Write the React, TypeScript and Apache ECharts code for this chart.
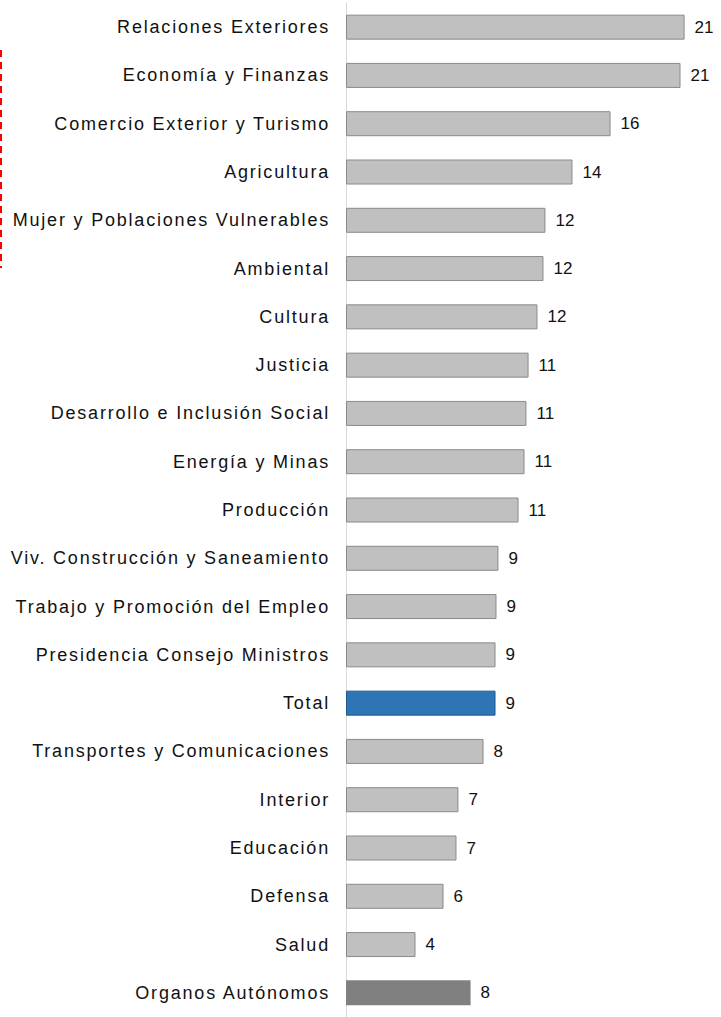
import React, { useEffect, useRef } from "react";
import * as echarts from "echarts";

const categories: string[] = [
  "Relaciones Exteriores",
  "Economía y Finanzas",
  "Comercio Exterior y Turismo",
  "Agricultura",
  "Mujer y Poblaciones Vulnerables",
  "Ambiental",
  "Cultura",
  "Justicia",
  "Desarrollo e Inclusión Social",
  "Energía y Minas",
  "Producción",
  "Viv. Construcción y Saneamiento",
  "Trabajo y Promoción del Empleo",
  "Presidencia Consejo Ministros",
  "Total",
  "Transportes y Comunicaciones",
  "Interior",
  "Educación",
  "Defensa",
  "Salud",
  "Organos Autónomos",
];

const values: number[] = [
  20.9, 20.65, 16.33, 13.98, 12.31, 12.19, 11.82, 11.27, 11.14, 11.02, 10.65,
  9.41, 9.29, 9.23, 9.23, 8.49, 6.94, 6.82, 6.02, 4.29, 7.69,
];

const totalCategory = "Total";
const autonomousCategory = "Organos Autónomos";

const FONT = "'Liberation Sans', Arial, Helvetica, sans-serif";

export default function App() {
  const ref = useRef<HTMLDivElement>(null);

  useEffect(() => {
    if (!ref.current) return;
    const chart = echarts.init(ref.current, undefined, { renderer: "svg" });
    const unit = 16.2;
    const xMax = 22;

    const data = values.map((v, i) => {
      const name = categories[i];
      let itemStyle: any = { color: "#c0c0c0", borderColor: "#8a8a8a", borderWidth: 1 };
      if (name === totalCategory) {
        itemStyle = { color: "#2e75b6", borderColor: "#1f5a8f", borderWidth: 1 };
      } else if (name === autonomousCategory) {
        itemStyle = { color: "#808080", borderColor: "#808080", borderWidth: 0 };
      }
      return { value: v, itemStyle };
    });

    chart.setOption({
      animation: false,
      grid: {
        left: 346,
        top: 3,
        width: xMax * unit,
        height: 21 * 48.51,
        containLabel: false,
      },
      xAxis: {
        type: "value",
        min: 0,
        max: xMax,
        show: false,
        splitLine: { show: false },
      },
      yAxis: {
        type: "category",
        data: categories,
        inverse: true,
        axisTick: { show: false },
        axisLine: { show: true, lineStyle: { color: "#d9d9d9", width: 1 } },
        axisLabel: {
          margin: 16,
          fontSize: 18,
          fontFamily: FONT,
          color: "#111111",
        },
        splitLine: { show: false },
      },
      graphic: [
        {
          type: "line",
          shape: { x1: 1, y1: 50, x2: 1, y2: 268 },
          style: { stroke: "#ff0000", lineWidth: 2, lineDash: [7, 5] },
          silent: true,
        },
      ],
      series: [
        {
          type: "bar",
          data,
          barWidth: 25,
          label: {
            show: true,
            position: "right",
            distance: 10,
            fontSize: 17,
            fontFamily: FONT,
            color: "#111111",
            formatter: (p: any) => String(Math.round(p.value)),
          },
          silent: true,
        },
      ],
    });

    return () => chart.dispose();
  }, []);

  return (
    <>
      <style>{`.chartbox text[text-anchor="end"] { letter-spacing: 1.8px; }`}</style>
      <div
        ref={ref}
        className="chartbox"
        style={{
          position: "fixed",
          left: 0,
          top: 0,
          width: 721,
          height: 1017,
          background: "#ffffff",
        }}
      />
    </>
  );
}
